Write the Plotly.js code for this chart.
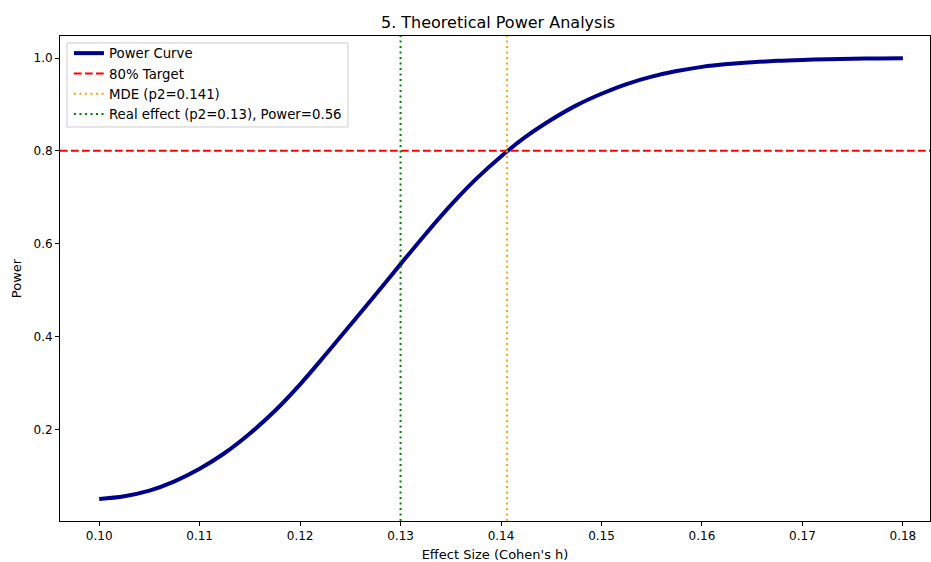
<!DOCTYPE html>
<html>
<head>
<meta charset="utf-8">
<script src="https://cdn.plot.ly/plotly-3.0.1.min.js"></script>
<style>html,body{margin:0;padding:0;background:#fff;}#chart{width:931px;height:562px;}</style>
</head>
<body>
<div id="chart"></div>
<script>
// Data
const effectSize = [0.100, 0.1025, 0.105, 0.1075, 0.110, 0.1125, 0.115, 0.1175, 0.120, 0.1225,
                    0.125, 0.1275, 0.130, 0.1325, 0.135, 0.1375, 0.140, 0.1425, 0.145, 0.1475,
                    0.150, 0.1525, 0.155, 0.1575, 0.160, 0.1625, 0.165, 0.1675, 0.170, 0.1725,
                    0.175, 0.1775, 0.180];
const power = [0.050, 0.056, 0.068, 0.088, 0.115, 0.149, 0.191, 0.240, 0.297, 0.360,
               0.425, 0.490, 0.556, 0.621, 0.683, 0.739, 0.788, 0.831, 0.867, 0.898,
               0.923, 0.944, 0.960, 0.972, 0.981, 0.987, 0.991, 0.994, 0.996, 0.9975,
               0.9985, 0.9992, 0.9996];
const targetPower = 0.8;
const mdeP2 = 0.1406;
const realP2 = 0.13;
const xRange = [0.0961, 0.1827];
const yRange = [0.0025, 1.0475];
const xTicks = [0.10, 0.11, 0.12, 0.13, 0.14, 0.15, 0.16, 0.17, 0.18];
const yTicks = [0.2, 0.4, 0.6, 0.8, 1.0];

const font = "DejaVu Sans, sans-serif";

const traces = [
  {x: effectSize, y: power, mode: 'lines', name: 'Power Curve',
   line: {color: '#00008b', width: 4, shape: 'spline'}},
  {x: xRange, y: [targetPower, targetPower], mode: 'lines', name: '80% Target',
   line: {color: '#ff0000', width: 2, dash: '7.7px,3.3px'}},
  {x: [mdeP2, mdeP2], y: yRange, mode: 'lines', name: 'MDE (p2=0.141)',
   line: {color: '#ffa500', width: 2, dash: '2.1px,3.4px'}},
  {x: [realP2, realP2], y: yRange, mode: 'lines', name: 'Real effect (p2=0.13), Power=0.56',
   line: {color: '#008000', width: 2, dash: '2.1px,3.4px'}}
];

const layout = {
  width: 931, height: 562,
  margin: {l: 60, r: 1, t: 36, b: 41},
  paper_bgcolor: '#fff', plot_bgcolor: '#fff',
  font: {family: font, size: 13, color: '#000'},
  title: {text: '5. Theoretical Power Analysis', x: 0.535, xanchor: 'center', y: 0.97, yanchor: 'top',
          font: {family: font, size: 16, color: '#000'}},
  xaxis: {range: xRange, tickvals: xTicks, tickformat: '.2f', showgrid: false, zeroline: false,
          showline: true, linecolor: '#000', linewidth: 1, mirror: true,
          ticks: 'outside', ticklen: 4, tickcolor: '#000', tickfont: {size: 12},
          title: {text: "Effect Size (Cohen's h)", font: {size: 13}, standoff: 9}},
  yaxis: {range: yRange, tickvals: yTicks, tickformat: '.1f', showgrid: false, zeroline: false,
          showline: true, linecolor: '#000', linewidth: 1, mirror: true,
          ticks: 'outside', ticklen: 4, tickcolor: '#000', tickfont: {size: 12},
          title: {text: 'Power', font: {size: 13}, standoff: 8}},
  shapes: [
    {type: 'rect', xref: 'paper', yref: 'paper', x0: 0.00805, x1: 0.331, y0: 0.8124, y1: 0.9856,
     line: {color: '#cccccc', width: 1}, fillcolor: 'rgba(255,255,255,0.8)', layer: 'above'}
  ],
  legend: {x: 0.0103, y: 0.9959, xanchor: 'left', yanchor: 'top',
           bgcolor: 'rgba(0,0,0,0)', borderwidth: 0,
           font: {size: 13.3}, tracegroupgap: 0, itemwidth: 30},
  showlegend: true
};

Plotly.newPlot('chart', traces, layout, {displayModeBar: false, staticPlot: true});
</script>
</body>
</html>
